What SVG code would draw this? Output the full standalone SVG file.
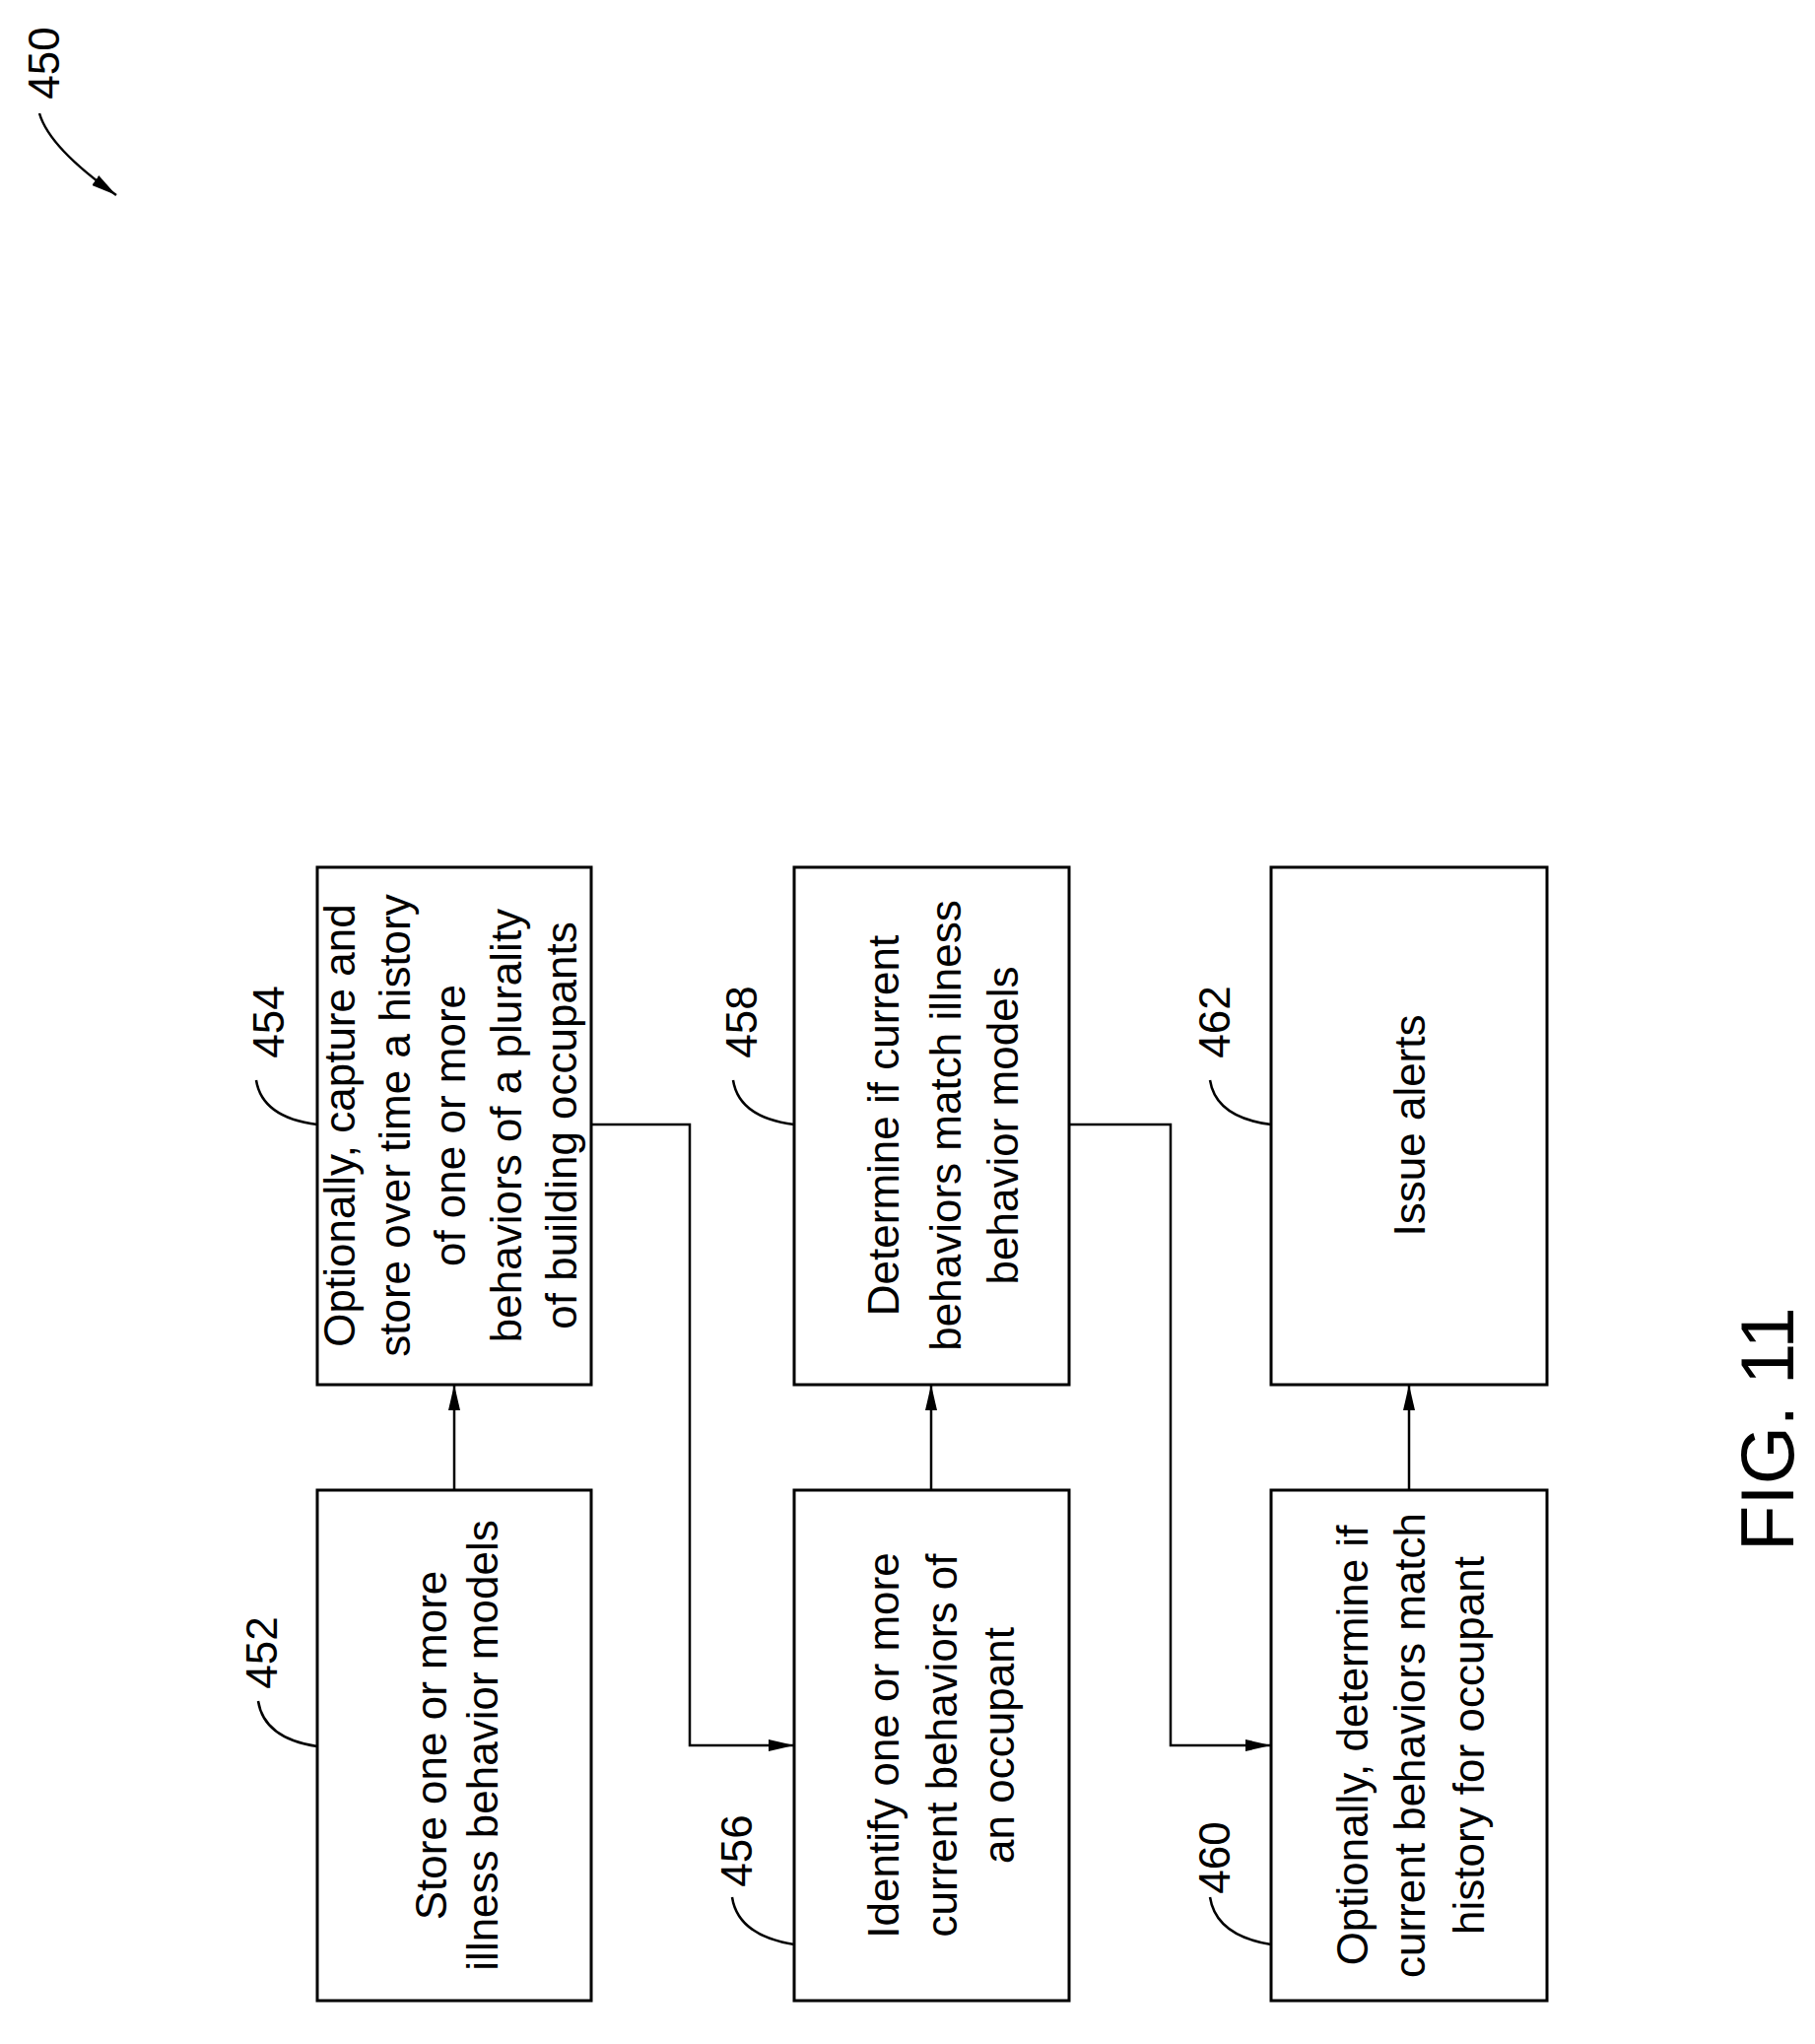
<svg xmlns="http://www.w3.org/2000/svg" width="1842" height="2074" viewBox="0 0 1842 2074">
<style>
.box{fill:none;stroke:#000;stroke-width:3}
.ln{fill:none;stroke:#000;stroke-width:2.5}
.t{font-family:"Liberation Sans",Arial,sans-serif;font-size:44px;text-anchor:middle;fill:#000}
.lb{font-family:"Liberation Sans",Arial,sans-serif;font-size:44px;text-anchor:middle;fill:#000}
</style>
<defs>
<marker id="ar" viewBox="0 0 26 12" refX="26" refY="6" markerWidth="26" markerHeight="12" markerUnits="userSpaceOnUse" orient="auto"><path d="M0,0 L26,6 L0,12 Z" fill="#000"/></marker>
</defs>
<g id="ref450">
<text class="lb" transform="translate(60,64) rotate(-90)">450</text>
<path class="ln" d="M40,115 Q50,150 118,198" marker-end="url(#ar)"/>
</g>
<g id="n452">
<rect class="box" x="322" y="1512" width="278" height="518"/>
<text class="t" transform="translate(453,1771) rotate(-90)">Store one or more</text>
<text class="t" transform="translate(505,1771) rotate(-90)">illness behavior models</text>
<text class="lb" transform="translate(281,1677) rotate(-90)">452</text>
<path class="ln" d="M262,1726 Q268,1764 322,1772"/>
</g>
<g id="n454">
<rect class="box" x="322" y="880" width="278" height="525"/>
<text class="t" transform="translate(360,1142) rotate(-90)">Optionally, capture and</text>
<text class="t" transform="translate(416,1142) rotate(-90)">store over time a history</text>
<text class="t" transform="translate(472,1142) rotate(-90)">of one or more</text>
<text class="t" transform="translate(529,1142) rotate(-90)">behaviors of a plurality</text>
<text class="t" transform="translate(585,1142) rotate(-90)">of building occupants</text>
<text class="lb" transform="translate(288,1037) rotate(-90)">454</text>
<path class="ln" d="M260,1096 Q266,1134 322,1141"/>
</g>
<g id="n456">
<rect class="box" x="806" y="1512" width="279" height="518"/>
<text class="t" transform="translate(912,1771) rotate(-90)">Identify one or more</text>
<text class="t" transform="translate(971,1771) rotate(-90)">current behaviors of</text>
<text class="t" transform="translate(1029,1771) rotate(-90)">an occupant</text>
<text class="lb" transform="translate(763,1878) rotate(-90)">456</text>
<path class="ln" d="M743,1925 Q749,1964 806,1973"/>
</g>
<g id="n458">
<rect class="box" x="806" y="880" width="279" height="525"/>
<text class="t" transform="translate(912,1142) rotate(-90)">Determine if current</text>
<text class="t" transform="translate(975,1142) rotate(-90)">behaviors match illness</text>
<text class="t" transform="translate(1033,1142) rotate(-90)">behavior models</text>
<text class="lb" transform="translate(768,1037) rotate(-90)">458</text>
<path class="ln" d="M744,1096 Q750,1134 806,1141"/>
</g>
<g id="n460">
<rect class="box" x="1290" y="1512" width="280" height="518"/>
<text class="t" transform="translate(1388,1771) rotate(-90)">Optionally, determine if</text>
<text class="t" transform="translate(1446,1771) rotate(-90)">current behaviors match</text>
<text class="t" transform="translate(1506,1771) rotate(-90)">history for occupant</text>
<text class="lb" transform="translate(1248,1885) rotate(-90)">460</text>
<path class="ln" d="M1228,1925 Q1234,1964 1290,1973"/>
</g>
<g id="n462">
<rect class="box" x="1290" y="880" width="280" height="525"/>
<text class="t" transform="translate(1446,1142) rotate(-90)">Issue alerts</text>
<text class="lb" transform="translate(1248,1037) rotate(-90)">462</text>
<path class="ln" d="M1228,1096 Q1234,1134 1290,1141"/>
</g>
<g id="connectors">
<path class="ln" d="M461,1512 V1405" marker-end="url(#ar)"/>
<path class="ln" d="M945,1512 V1405" marker-end="url(#ar)"/>
<path class="ln" d="M1430,1512 V1405" marker-end="url(#ar)"/>
<path class="ln" d="M600,1141 H700 V1771 H806" marker-end="url(#ar)"/>
<path class="ln" d="M1085,1141 H1188 V1771 H1290" marker-end="url(#ar)"/>
</g>
<text transform="translate(1820,1450) rotate(-90)" style="font-family:'Liberation Sans',Arial,sans-serif;font-size:76px;text-anchor:middle">FIG. 11</text>
</svg>
